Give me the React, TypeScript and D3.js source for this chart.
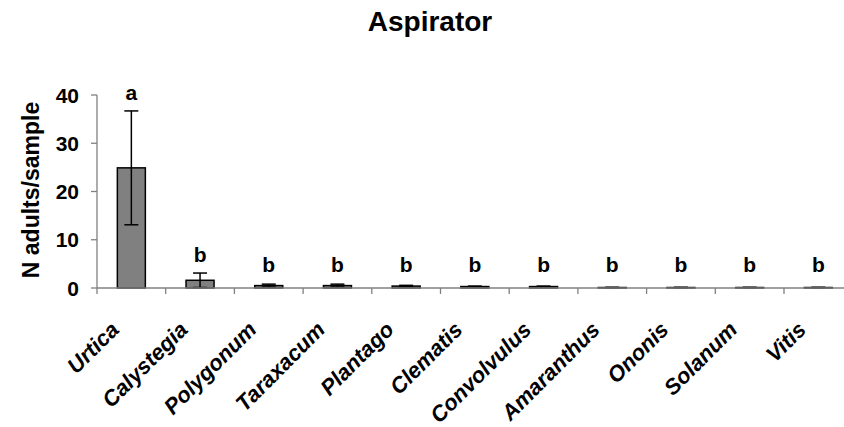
import React from "react";
import * as d3 from "d3";

const categories = ["Urtica", "Calystegia", "Polygonum", "Taraxacum", "Plantago", "Clematis", "Convolvulus", "Amaranthus", "Ononis", "Solanum", "Vitis"];
const means = [24.9, 1.6, 0.5, 0.5, 0.4, 0.3, 0.3, 0.1, 0.1, 0.1, 0.1];
const errors = [11.8, 1.5, 0.3, 0.3, 0.15, 0.1, 0.1, 0.05, 0.05, 0.05, 0.05];
const letters = ["a", "b", "b", "b", "b", "b", "b", "b", "b", "b", "b"];
const yTicks = [0, 10, 20, 30, 40];

const W = 844, H = 427;
const x0 = 97, y0 = 288, yTop = 95;
const band = 68.7;

export default function App() {
  const x = d3.scaleBand<string>().domain(categories).range([x0, x0 + band * categories.length]).paddingInner(0).paddingOuter(0);
  const y = d3.scaleLinear().domain([0, 40]).range([y0, yTop]);
  const barW = 28;
  const cap = 14;
  const font = "'Liberation Sans', Arial, sans-serif";
  const axisColor = "#808080";
  return (
    <svg width={W} height={H} style={{ position: "absolute", left: 0, top: 0 }} fontFamily={font}>
      <text x={430} y={31} textAnchor="middle" fontSize={28} fontWeight="bold">Aspirator</text>
      <text transform={`translate(38.5,190) rotate(-90)`} textAnchor="middle" fontSize={23} fontWeight="bold">N adults/sample</text>
      {/* y axis */}
      <line x1={x0} x2={x0} y1={yTop} y2={y0} stroke={axisColor} strokeWidth={1.3} />
      {yTicks.map((t) => (
        <g key={t}>
          <line x1={x0 - 6} x2={x0} y1={y(t)} y2={y(t)} stroke={axisColor} strokeWidth={1.3} />
          <text x={79} y={y(t) + 7.5} textAnchor="end" fontSize={21} fontWeight="bold">{t}</text>
        </g>
      ))}
      {/* bars */}
      {categories.map((c, i) => {
        const cx = (x(c) as number) + x.bandwidth() / 2;
        const top = y(means[i]);
        const eTop = y(means[i] + errors[i]);
        const eBot = y(Math.max(0, means[i] - errors[i]));
        return (
          <g key={c}>
            <rect x={cx - barW / 2} y={top} width={barW} height={y0 - top} fill="#808080" stroke="#000" strokeWidth={1.5} />
            <line x1={cx} x2={cx} y1={eTop} y2={eBot} stroke="#000" strokeWidth={1.5} />
            <line x1={cx - cap / 2} x2={cx + cap / 2} y1={eTop} y2={eTop} stroke="#000" strokeWidth={1.5} />
            <line x1={cx - cap / 2} x2={cx + cap / 2} y1={eBot} y2={eBot} stroke="#000" strokeWidth={1.5} />
            <text x={cx} y={Math.min(eTop - 11, 272)} textAnchor="middle" fontSize={21} fontWeight="bold">{letters[i]}</text>
          </g>
        );
      })}
      {/* x axis */}
      <line x1={x0} x2={W} y1={y0} y2={y0} stroke={axisColor} strokeWidth={1.3} />
      {categories.map((c) => (
        <line key={c} x1={x(c) as number} x2={x(c) as number} y1={y0} y2={y0 + 6} stroke={axisColor} strokeWidth={1.3} />
      ))}
      {categories.map((c) => {
        const cx = (x(c) as number) + x.bandwidth() / 2;
        return (
          <text key={c} transform={`translate(${cx - 11},${y0 + 43}) rotate(-45)`} textAnchor="end" fontSize={22} fontWeight="bold" fontStyle="italic">{c}</text>
        );
      })}
    </svg>
  );
}
